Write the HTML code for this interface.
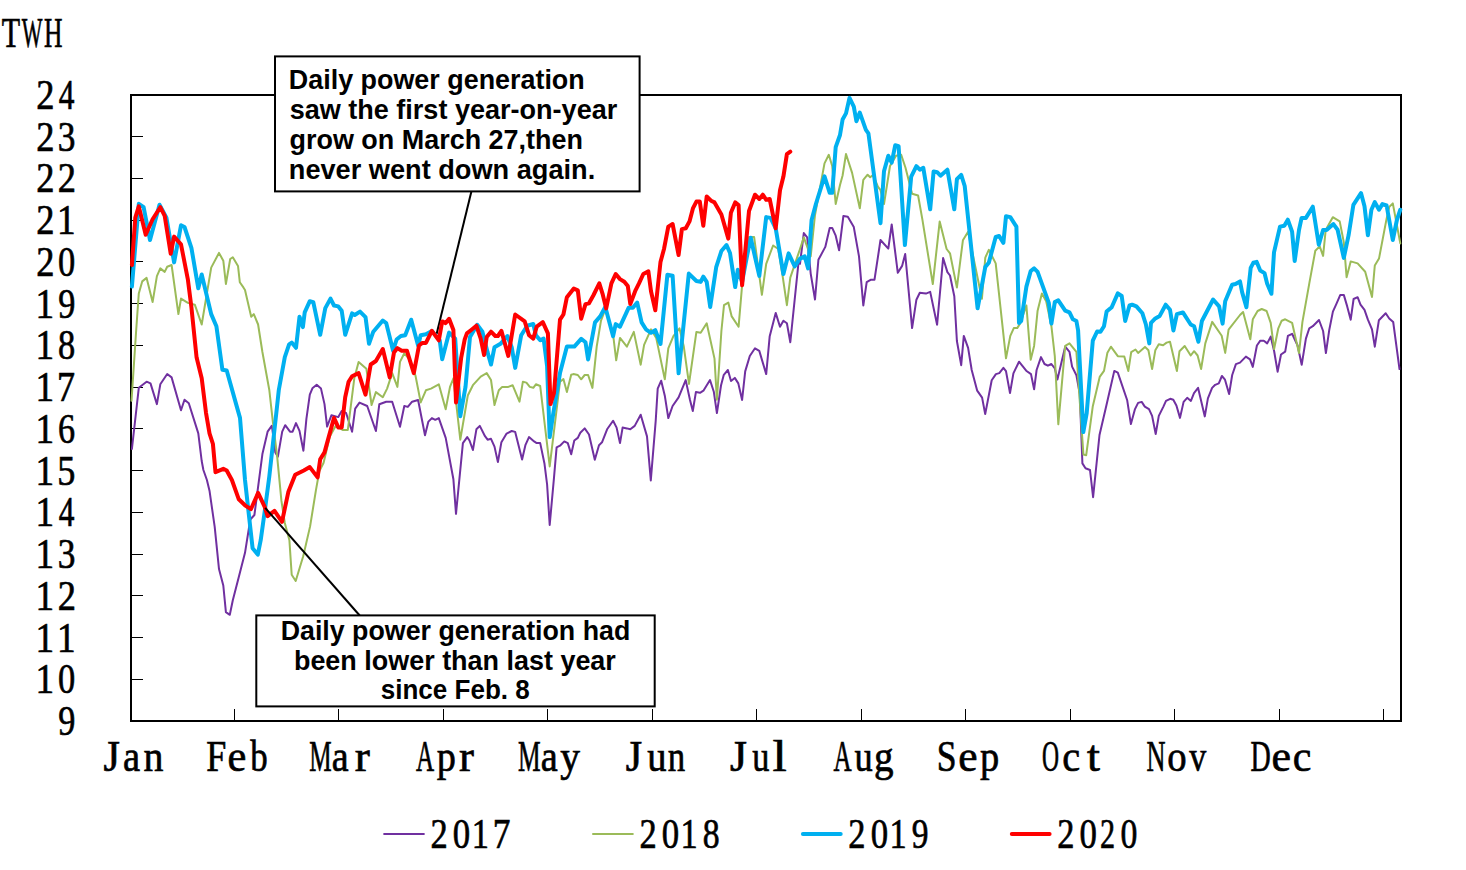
<!DOCTYPE html><html><head><meta charset="utf-8"><style>html,body{margin:0;padding:0;background:#fff;width:1466px;height:870px;overflow:hidden}svg{display:block}</style></head><body><svg width="1466" height="870" viewBox="0 0 1466 870"><rect width="1466" height="870" fill="#fff"/><text transform="translate(1.81,47.40) scale(0.698,1)" font-family="Liberation Serif, serif" font-size="43" fill="#000" stroke="#000" stroke-width="0.7">T</text><text transform="translate(21.83,47.40) scale(0.509,1)" font-family="Liberation Serif, serif" font-size="43" fill="#000" stroke="#000" stroke-width="0.7">W</text><text transform="translate(43.91,47.40) scale(0.595,1)" font-family="Liberation Serif, serif" font-size="43" fill="#000" stroke="#000" stroke-width="0.7">H</text><text transform="translate(58.30,735.00) scale(0.796,1)" font-family="Liberation Serif, serif" font-size="43" fill="#000" stroke="#000" stroke-width="0.7">9</text><text transform="translate(35.38,693.27) scale(0.865,1)" font-family="Liberation Serif, serif" font-size="43" fill="#000" stroke="#000" stroke-width="0.7">1</text><text transform="translate(58.09,693.27) scale(0.801,1)" font-family="Liberation Serif, serif" font-size="43" fill="#000" stroke="#000" stroke-width="0.7">0</text><text transform="translate(35.38,651.53) scale(0.865,1)" font-family="Liberation Serif, serif" font-size="43" fill="#000" stroke="#000" stroke-width="0.7">1</text><text transform="translate(56.88,651.53) scale(0.865,1)" font-family="Liberation Serif, serif" font-size="43" fill="#000" stroke="#000" stroke-width="0.7">1</text><text transform="translate(35.38,609.80) scale(0.865,1)" font-family="Liberation Serif, serif" font-size="43" fill="#000" stroke="#000" stroke-width="0.7">1</text><text transform="translate(57.80,609.80) scale(0.847,1)" font-family="Liberation Serif, serif" font-size="43" fill="#000" stroke="#000" stroke-width="0.7">2</text><text transform="translate(35.38,568.07) scale(0.865,1)" font-family="Liberation Serif, serif" font-size="43" fill="#000" stroke="#000" stroke-width="0.7">1</text><text transform="translate(57.71,568.07) scale(0.822,1)" font-family="Liberation Serif, serif" font-size="43" fill="#000" stroke="#000" stroke-width="0.7">3</text><text transform="translate(35.38,526.33) scale(0.865,1)" font-family="Liberation Serif, serif" font-size="43" fill="#000" stroke="#000" stroke-width="0.7">1</text><text transform="translate(58.79,526.33) scale(0.730,1)" font-family="Liberation Serif, serif" font-size="43" fill="#000" stroke="#000" stroke-width="0.7">4</text><text transform="translate(35.38,484.60) scale(0.865,1)" font-family="Liberation Serif, serif" font-size="43" fill="#000" stroke="#000" stroke-width="0.7">1</text><text transform="translate(57.29,484.60) scale(0.843,1)" font-family="Liberation Serif, serif" font-size="43" fill="#000" stroke="#000" stroke-width="0.7">5</text><text transform="translate(35.38,442.87) scale(0.865,1)" font-family="Liberation Serif, serif" font-size="43" fill="#000" stroke="#000" stroke-width="0.7">1</text><text transform="translate(57.93,442.87) scale(0.795,1)" font-family="Liberation Serif, serif" font-size="43" fill="#000" stroke="#000" stroke-width="0.7">6</text><text transform="translate(35.38,401.13) scale(0.865,1)" font-family="Liberation Serif, serif" font-size="43" fill="#000" stroke="#000" stroke-width="0.7">1</text><text transform="translate(57.03,401.13) scale(0.838,1)" font-family="Liberation Serif, serif" font-size="43" fill="#000" stroke="#000" stroke-width="0.7">7</text><text transform="translate(35.38,359.40) scale(0.865,1)" font-family="Liberation Serif, serif" font-size="43" fill="#000" stroke="#000" stroke-width="0.7">1</text><text transform="translate(58.09,359.40) scale(0.801,1)" font-family="Liberation Serif, serif" font-size="43" fill="#000" stroke="#000" stroke-width="0.7">8</text><text transform="translate(35.38,317.67) scale(0.865,1)" font-family="Liberation Serif, serif" font-size="43" fill="#000" stroke="#000" stroke-width="0.7">1</text><text transform="translate(58.30,317.67) scale(0.796,1)" font-family="Liberation Serif, serif" font-size="43" fill="#000" stroke="#000" stroke-width="0.7">9</text><text transform="translate(36.30,275.93) scale(0.847,1)" font-family="Liberation Serif, serif" font-size="43" fill="#000" stroke="#000" stroke-width="0.7">2</text><text transform="translate(58.09,275.93) scale(0.801,1)" font-family="Liberation Serif, serif" font-size="43" fill="#000" stroke="#000" stroke-width="0.7">0</text><text transform="translate(36.30,234.20) scale(0.847,1)" font-family="Liberation Serif, serif" font-size="43" fill="#000" stroke="#000" stroke-width="0.7">2</text><text transform="translate(56.88,234.20) scale(0.865,1)" font-family="Liberation Serif, serif" font-size="43" fill="#000" stroke="#000" stroke-width="0.7">1</text><text transform="translate(36.30,192.47) scale(0.847,1)" font-family="Liberation Serif, serif" font-size="43" fill="#000" stroke="#000" stroke-width="0.7">2</text><text transform="translate(57.80,192.47) scale(0.847,1)" font-family="Liberation Serif, serif" font-size="43" fill="#000" stroke="#000" stroke-width="0.7">2</text><text transform="translate(36.30,150.73) scale(0.847,1)" font-family="Liberation Serif, serif" font-size="43" fill="#000" stroke="#000" stroke-width="0.7">2</text><text transform="translate(57.71,150.73) scale(0.822,1)" font-family="Liberation Serif, serif" font-size="43" fill="#000" stroke="#000" stroke-width="0.7">3</text><text transform="translate(36.30,109.00) scale(0.847,1)" font-family="Liberation Serif, serif" font-size="43" fill="#000" stroke="#000" stroke-width="0.7">2</text><text transform="translate(58.79,109.00) scale(0.730,1)" font-family="Liberation Serif, serif" font-size="43" fill="#000" stroke="#000" stroke-width="0.7">4</text><rect x="131" y="95" width="1270" height="626" fill="none" stroke="#000" stroke-width="2"/><line x1="132" y1="679.5" x2="143" y2="679.5" stroke="#000" stroke-width="1"/><line x1="132" y1="637.5" x2="143" y2="637.5" stroke="#000" stroke-width="1"/><line x1="132" y1="595.5" x2="143" y2="595.5" stroke="#000" stroke-width="1"/><line x1="132" y1="554.5" x2="143" y2="554.5" stroke="#000" stroke-width="1"/><line x1="132" y1="512.5" x2="143" y2="512.5" stroke="#000" stroke-width="1"/><line x1="132" y1="470.5" x2="143" y2="470.5" stroke="#000" stroke-width="1"/><line x1="132" y1="428.5" x2="143" y2="428.5" stroke="#000" stroke-width="1"/><line x1="132" y1="387.5" x2="143" y2="387.5" stroke="#000" stroke-width="1"/><line x1="132" y1="345.5" x2="143" y2="345.5" stroke="#000" stroke-width="1"/><line x1="132" y1="303.5" x2="143" y2="303.5" stroke="#000" stroke-width="1"/><line x1="132" y1="261.5" x2="143" y2="261.5" stroke="#000" stroke-width="1"/><line x1="132" y1="220.5" x2="143" y2="220.5" stroke="#000" stroke-width="1"/><line x1="132" y1="178.5" x2="143" y2="178.5" stroke="#000" stroke-width="1"/><line x1="132" y1="136.5" x2="143" y2="136.5" stroke="#000" stroke-width="1"/><line x1="234.5" y1="709" x2="234.5" y2="720" stroke="#000" stroke-width="1"/><line x1="338.5" y1="709" x2="338.5" y2="720" stroke="#000" stroke-width="1"/><line x1="443.5" y1="709" x2="443.5" y2="720" stroke="#000" stroke-width="1"/><line x1="547.5" y1="709" x2="547.5" y2="720" stroke="#000" stroke-width="1"/><line x1="652.5" y1="709" x2="652.5" y2="720" stroke="#000" stroke-width="1"/><line x1="756.5" y1="709" x2="756.5" y2="720" stroke="#000" stroke-width="1"/><line x1="861.5" y1="709" x2="861.5" y2="720" stroke="#000" stroke-width="1"/><line x1="965.5" y1="709" x2="965.5" y2="720" stroke="#000" stroke-width="1"/><line x1="1070.5" y1="709" x2="1070.5" y2="720" stroke="#000" stroke-width="1"/><line x1="1174.5" y1="709" x2="1174.5" y2="720" stroke="#000" stroke-width="1"/><line x1="1279.5" y1="709" x2="1279.5" y2="720" stroke="#000" stroke-width="1"/><line x1="1383.5" y1="709" x2="1383.5" y2="720" stroke="#000" stroke-width="1"/><text transform="translate(103.47,770.70) scale(0.967,1)" font-family="Liberation Serif, serif" font-size="43.5" fill="#000" stroke="#000" stroke-width="0.7">J</text><text transform="translate(123.10,770.70) scale(0.885,1)" font-family="Liberation Serif, serif" font-size="43.5" fill="#000" stroke="#000" stroke-width="0.7">a</text><text transform="translate(143.54,770.70) scale(0.916,1)" font-family="Liberation Serif, serif" font-size="43.5" fill="#000" stroke="#000" stroke-width="0.7">n</text><text transform="translate(206.21,770.70) scale(0.828,1)" font-family="Liberation Serif, serif" font-size="43.5" fill="#000" stroke="#000" stroke-width="0.7">F</text><text transform="translate(227.39,770.70) scale(0.975,1)" font-family="Liberation Serif, serif" font-size="43.5" fill="#000" stroke="#000" stroke-width="0.7">e</text><text transform="translate(250.15,770.70) scale(0.801,1)" font-family="Liberation Serif, serif" font-size="43.5" fill="#000" stroke="#000" stroke-width="0.7">b</text><text transform="translate(309.13,770.70) scale(0.578,1)" font-family="Liberation Serif, serif" font-size="43.5" fill="#000" stroke="#000" stroke-width="0.7">M</text><text transform="translate(331.72,770.70) scale(0.873,1)" font-family="Liberation Serif, serif" font-size="43.5" fill="#000" stroke="#000" stroke-width="0.7">a</text><text transform="translate(354.74,770.70) scale(1.043,1)" font-family="Liberation Serif, serif" font-size="43.5" fill="#000" stroke="#000" stroke-width="0.7">r</text><text transform="translate(416.10,770.70) scale(0.577,1)" font-family="Liberation Serif, serif" font-size="43.5" fill="#000" stroke="#000" stroke-width="0.7">A</text><text transform="translate(436.83,770.70) scale(0.879,1)" font-family="Liberation Serif, serif" font-size="43.5" fill="#000" stroke="#000" stroke-width="0.7">p</text><text transform="translate(459.05,770.70) scale(1.028,1)" font-family="Liberation Serif, serif" font-size="43.5" fill="#000" stroke="#000" stroke-width="0.7">r</text><text transform="translate(517.92,770.70) scale(0.584,1)" font-family="Liberation Serif, serif" font-size="43.5" fill="#000" stroke="#000" stroke-width="0.7">M</text><text transform="translate(540.71,770.70) scale(0.879,1)" font-family="Liberation Serif, serif" font-size="43.5" fill="#000" stroke="#000" stroke-width="0.7">a</text><text transform="translate(560.27,770.70) scale(0.907,1)" font-family="Liberation Serif, serif" font-size="43.5" fill="#000" stroke="#000" stroke-width="0.7">y</text><text transform="translate(625.77,770.70) scale(0.967,1)" font-family="Liberation Serif, serif" font-size="43.5" fill="#000" stroke="#000" stroke-width="0.7">J</text><text transform="translate(647.34,770.70) scale(0.886,1)" font-family="Liberation Serif, serif" font-size="43.5" fill="#000" stroke="#000" stroke-width="0.7">u</text><text transform="translate(667.85,770.70) scale(0.801,1)" font-family="Liberation Serif, serif" font-size="43.5" fill="#000" stroke="#000" stroke-width="0.7">n</text><text transform="translate(730.04,770.70) scale(1.000,1)" font-family="Liberation Serif, serif" font-size="43.5" fill="#000" stroke="#000" stroke-width="0.7">J</text><text transform="translate(752.20,770.70) scale(0.788,1)" font-family="Liberation Serif, serif" font-size="43.5" fill="#000" stroke="#000" stroke-width="0.7">u</text><text transform="translate(772.42,770.70) scale(1.179,1)" font-family="Liberation Serif, serif" font-size="43.5" fill="#000" stroke="#000" stroke-width="0.7">l</text><text transform="translate(833.40,770.70) scale(0.577,1)" font-family="Liberation Serif, serif" font-size="43.5" fill="#000" stroke="#000" stroke-width="0.7">A</text><text transform="translate(854.57,770.70) scale(0.837,1)" font-family="Liberation Serif, serif" font-size="43.5" fill="#000" stroke="#000" stroke-width="0.7">u</text><text transform="translate(874.07,770.70) scale(0.898,1)" font-family="Liberation Serif, serif" font-size="43.5" fill="#000" stroke="#000" stroke-width="0.7">g</text><text transform="translate(936.67,770.70) scale(0.818,1)" font-family="Liberation Serif, serif" font-size="43.5" fill="#000" stroke="#000" stroke-width="0.7">S</text><text transform="translate(958.15,770.70) scale(1.000,1)" font-family="Liberation Serif, serif" font-size="43.5" fill="#000" stroke="#000" stroke-width="0.7">e</text><text transform="translate(980.03,770.70) scale(0.884,1)" font-family="Liberation Serif, serif" font-size="43.5" fill="#000" stroke="#000" stroke-width="0.7">p</text><text transform="translate(1041.98,770.70) scale(0.542,1)" font-family="Liberation Serif, serif" font-size="43.5" fill="#000" stroke="#000" stroke-width="0.7">O</text><text transform="translate(1062.22,770.70) scale(0.926,1)" font-family="Liberation Serif, serif" font-size="43.5" fill="#000" stroke="#000" stroke-width="0.7">c</text><text transform="translate(1087.00,770.70) scale(1.070,1)" font-family="Liberation Serif, serif" font-size="43.5" fill="#000" stroke="#000" stroke-width="0.7">t</text><text transform="translate(1146.59,770.70) scale(0.604,1)" font-family="Liberation Serif, serif" font-size="43.5" fill="#000" stroke="#000" stroke-width="0.7">N</text><text transform="translate(1167.28,770.70) scale(0.890,1)" font-family="Liberation Serif, serif" font-size="43.5" fill="#000" stroke="#000" stroke-width="0.7">o</text><text transform="translate(1189.25,770.70) scale(0.782,1)" font-family="Liberation Serif, serif" font-size="43.5" fill="#000" stroke="#000" stroke-width="0.7">v</text><text transform="translate(1250.54,770.70) scale(0.644,1)" font-family="Liberation Serif, serif" font-size="43.5" fill="#000" stroke="#000" stroke-width="0.7">D</text><text transform="translate(1271.43,770.70) scale(1.012,1)" font-family="Liberation Serif, serif" font-size="43.5" fill="#000" stroke="#000" stroke-width="0.7">e</text><text transform="translate(1292.66,770.70) scale(0.962,1)" font-family="Liberation Serif, serif" font-size="43.5" fill="#000" stroke="#000" stroke-width="0.7">c</text><line x1="472" y1="189" x2="436.6" y2="334" stroke="#000" stroke-width="2"/><polyline points="131.9,449.0 138.8,387.8 146.6,381.7 150.5,383.4 156.9,404.1 160.3,384.3 167.2,374.0 171.6,377.4 181.0,410.2 184.5,399.8 188.8,403.3 198.3,433.4 201.7,461.0 203.4,470.0 206.9,480.0 209.5,490.7 214.7,526.9 219.0,569.1 223.3,585.5 225.9,612.2 229.8,614.8 232.8,600.2 238.8,576.9 245.0,552.8 250.3,519.5 254.4,515.0 262.4,454.1 267.6,431.7 271.9,425.7 275.3,452.4 277.9,456.7 282.2,431.7 285.2,425.2 290.0,431.7 292.6,431.7 296.0,423.1 299.5,430.9 303.4,450.7 306.4,418.8 309.8,394.7 312.4,388.3 316.7,384.8 321.0,388.6 324.5,404.1 327.1,426.6 331.4,415.3 338.3,417.1 341.7,411.0 346.0,412.8 352.1,431.7 355.2,408.6 359.5,402.6 367.2,406.0 375.9,431.0 379.3,404.3 386.2,401.7 392.2,401.7 400.0,426.7 404.3,406.0 407.8,406.9 412.1,401.7 418.1,400.0 425.0,435.3 428.4,421.6 431.9,418.1 435.3,419.8 438.8,418.1 445.7,437.9 453.4,479.3 456.0,513.8 462.9,443.1 467.2,437.1 469.5,440.5 472.9,450.0 476.4,429.3 479.8,425.9 485.0,436.2 487.6,439.7 491.0,438.8 494.5,446.6 497.9,462.1 501.4,442.2 506.6,433.6 511.7,431.0 515.2,431.9 522.1,459.5 525.5,444.8 529.0,437.1 534.1,441.4 536.7,443.1 540.2,443.1 544.5,463.8 547.1,484.5 549.7,525.0 554.0,477.6 556.6,447.4 560.0,445.7 564.3,441.4 567.8,443.1 571.2,454.3 574.3,440.5 577.8,437.9 580.3,432.8 584.7,428.4 589.0,434.5 594.8,459.8 599.0,445.2 602.0,442.3 607.1,429.3 613.1,420.7 616.6,427.6 620.0,443.1 622.6,427.6 626.9,428.4 630.3,429.3 634.7,425.9 640.7,414.7 647.0,436.4 650.8,480.4 655.7,420.8 657.7,388.6 661.2,380.7 664.8,395.7 668.3,418.1 672.6,406.0 678.6,397.4 685.7,380.1 690.0,400.0 692.8,411.0 695.9,392.1 700.0,392.8 703.4,390.7 710.0,380.0 713.8,391.7 716.9,413.1 721.0,385.5 723.8,374.8 727.9,370.0 731.0,381.0 734.8,377.9 738.3,383.4 742.1,400.0 745.2,371.4 749.8,356.0 755.0,348.3 759.3,350.9 766.2,374.1 769.7,336.2 775.7,312.9 780.0,326.7 783.4,320.7 786.9,323.3 790.3,342.2 798.6,261.6 800.0,263.8 803.8,233.1 807.2,237.4 810.7,273.6 815.0,299.5 818.4,259.8 825.3,246.9 829.7,227.9 832.2,227.9 835.7,235.7 839.1,250.3 843.4,215.9 847.8,216.7 853.8,227.1 859.0,256.4 863.3,305.5 866.7,282.2 871.0,279.7 874.5,279.7 880.5,240.0 888.3,248.6 891.7,224.5 897.8,272.8 902.1,265.9 905.2,254.0 912.1,328.1 916.4,299.7 919.8,292.8 925.9,293.6 930.2,291.9 937.1,324.7 943.1,258.0 947.4,272.1 950.0,275.5 954.3,296.2 956.9,341.0 961.2,365.2 963.8,335.9 968.1,347.9 971.7,370.0 977.2,390.7 982.1,397.6 985.2,414.1 991.7,380.3 995.9,374.1 999.3,373.1 1003.4,367.8 1006.0,371.2 1010.0,393.1 1013.4,373.4 1019.0,361.7 1026.2,370.7 1031.0,374.1 1034.1,389.3 1036.6,370.0 1041.0,357.1 1044.5,364.0 1047.9,365.7 1051.4,364.0 1054.8,368.3 1057.4,379.5 1060.9,364.8 1065.2,346.7 1069.5,351.9 1072.1,366.6 1076.4,375.2 1079.8,394.1 1082.4,463.4 1085.5,468.3 1090.0,470.0 1093.1,497.2 1099.5,435.0 1106.6,404.5 1114.3,370.9 1117.8,372.6 1127.2,400.3 1130.9,424.1 1135.0,409.1 1138.1,402.9 1141.7,401.9 1144.8,406.6 1149.0,409.1 1152.1,415.9 1155.7,434.0 1158.8,415.9 1163.4,406.6 1166.0,400.9 1170.2,398.8 1173.3,399.8 1176.4,405.5 1180.0,417.9 1183.6,401.9 1187.2,397.8 1190.9,400.9 1194.0,393.1 1198.1,387.9 1204.8,416.4 1207.9,398.3 1212.1,387.9 1215.2,384.8 1218.8,383.3 1221.9,376.0 1225.0,379.7 1229.1,394.1 1232.2,375.0 1235.9,364.1 1240.0,362.6 1245.9,356.6 1250.0,359.3 1252.8,366.9 1256.9,345.5 1260.3,340.7 1263.8,340.7 1267.2,343.4 1270.7,336.6 1274.1,351.0 1277.6,371.7 1281.0,354.5 1285.2,351.7 1287.9,335.9 1292.1,333.8 1297.6,345.5 1301.7,364.8 1305.9,338.6 1309.3,328.3 1312.8,326.2 1319.0,320.0 1323.1,331.0 1325.9,353.1 1329.3,329.7 1332.9,311.6 1336.3,304.1 1340.3,294.9 1343.8,294.9 1347.2,306.4 1350.7,319.7 1353.6,299.0 1357.6,297.2 1360.5,304.7 1364.5,309.9 1367.9,319.7 1372.0,329.4 1374.8,346.7 1378.9,320.2 1385.7,313.3 1389.2,318.5 1393.2,322.0 1399.5,369.1" fill="none" stroke="#7030A0" stroke-width="2" stroke-linejoin="round" stroke-linecap="round"/><polyline points="131.5,400.7 136.2,330.0 138.8,293.4 142.2,281.4 146.6,277.9 152.6,302.1 156.9,276.2 160.3,268.4 164.7,271.9 167.2,266.7 171.6,265.0 178.4,314.1 181.0,298.6 187.9,302.9 194.8,304.7 201.7,324.5 211.2,267.6 219.0,252.9 223.3,260.7 225.9,284.0 230.2,259.0 232.8,257.2 238.0,265.9 239.8,282.2 243.4,287.4 245.0,290.0 251.2,316.7 253.8,314.1 258.1,324.5 262.4,352.0 269.3,390.0 272.8,421.4 277.1,455.9 281.4,500.7 284.8,523.0 289.4,540.2 291.7,574.7 295.7,581.0 303.2,556.3 310.1,526.4 315.9,490.3 319.3,471.4 323.6,462.8 329.7,436.9 335.7,425.7 342.6,430.0 347.8,430.0 354.3,378.3 358.6,361.9 366.4,368.8 371.6,405.0 375.9,392.1 382.8,397.2 387.1,388.6 392.2,373.1 397.4,386.9 400.0,361.9 404.3,353.3 408.6,358.4 415.5,375.7 420.7,402.4 425.9,390.3 431.0,388.6 438.8,384.3 445.7,409.3 450.0,386.9 453.4,378.3 460.3,439.7 467.8,395.5 472.9,385.2 480.7,376.6 486.7,373.1 491.0,380.0 494.5,405.0 498.8,390.3 502.2,386.9 508.3,386.9 512.6,385.2 519.5,401.6 522.9,381.7 526.4,382.6 529.8,386.9 533.3,387.8 535.9,384.3 540.2,386.0 549.7,466.4 560.0,381.7 563.4,379.1 566.9,392.1 571.2,374.8 573.4,374.1 577.8,375.0 581.2,379.3 584.7,375.0 588.1,375.0 592.4,387.9 596.7,346.6 601.0,320.7 605.3,309.5 613.1,334.5 616.2,360.3 620.0,337.9 626.9,346.6 633.8,331.9 640.7,364.7 644.1,344.8 651.0,329.3 656.2,337.9 664.8,379.3 668.3,348.3 673.4,336.2 679.5,328.4 683.8,346.6 689.0,383.9 696.4,331.9 700.7,332.8 706.7,323.3 714.5,358.6 716.9,399.7 721.4,331.0 724.0,305.2 728.3,302.6 731.7,316.4 738.6,326.7 742.1,285.3 749.0,236.9 754.1,236.9 761.9,294.8 766.2,263.8 773.1,245.5 778.3,249.0 782.6,275.9 786.9,305.2 790.3,277.6 800.0,249.0 803.8,237.4 810.7,256.4 815.0,215.0 824.5,163.4 828.8,154.8 832.2,166.0 835.7,204.0 840.0,185.0 842.6,175.5 846.0,154.0 852.1,172.9 859.8,208.3 863.3,179.8 867.6,174.7 870.2,177.2 873.0,175.0 877.9,186.7 880.5,190.2 884.0,204.0 890.0,166.0 896.0,155.7 901.2,154.8 905.5,167.8 912.1,193.8 918.1,195.5 922.4,219.7 932.8,284.1 939.7,221.4 946.6,249.0 950.0,253.3 956.9,287.6 962.9,240.3 968.1,231.7 981.9,298.8 985.3,257.6 988.8,249.8 995.7,263.4 1006.0,358.3 1010.3,335.9 1013.8,328.1 1017.2,328.1 1020.0,323.8 1026.4,305.5 1030.7,359.7 1034.1,345.9 1037.6,310.7 1041.9,293.4 1046.2,301.2 1051.4,326.2 1054.8,356.2 1058.3,424.3 1065.2,345.9 1069.5,343.3 1076.4,351.9 1083.4,454.5 1086.2,455.2 1092.8,406.2 1099.7,376.9 1104.0,370.9 1107.4,352.8 1110.9,346.7 1117.8,356.2 1124.3,356.4 1128.3,371.0 1131.2,352.1 1135.5,349.5 1138.1,352.9 1145.0,346.9 1148.4,350.3 1152.1,369.0 1155.3,350.3 1158.8,344.3 1163.1,345.2 1166.6,342.6 1170.0,341.7 1176.9,371.0 1179.5,351.2 1184.7,346.0 1190.7,355.5 1194.1,351.2 1197.6,355.5 1201.1,369.0 1205.3,343.4 1212.2,321.9 1221.7,335.7 1225.2,352.9 1228.6,329.7 1240.0,315.0 1243.1,312.0 1250.3,339.3 1252.8,319.3 1257.6,311.0 1261.7,309.0 1266.6,311.0 1270.7,322.8 1274.1,349.0 1278.3,328.3 1281.7,320.7 1285.2,319.3 1292.1,322.8 1299.0,353.1 1302.4,322.1 1309.3,283.4 1315.3,250.7 1319.7,246.4 1323.1,255.9 1325.7,230.0 1332.8,217.2 1339.7,221.4 1343.8,242.1 1346.6,277.2 1350.7,261.4 1357.6,263.4 1365.2,271.7 1372.0,297.0 1374.8,265.5 1379.0,258.6 1386.6,218.6 1389.3,206.9 1392.8,203.4 1400.3,243.4" fill="none" stroke="#9BBB59" stroke-width="2" stroke-linejoin="round" stroke-linecap="round"/><polyline points="131.9,286.6 138.8,203.8 143.6,207.2 150.0,240.0 159.5,204.7 166.4,217.6 174.1,262.4 181.0,225.3 184.5,227.0 191.4,247.8 198.3,288.3 201.7,274.5 211.2,314.1 216.4,326.2 222.4,369.7 226.7,370.5 237.1,407.6 240.0,417.9 245.0,480.0 252.6,548.3 257.8,554.6 260.7,540.2 264.7,511.5 269.3,476.6 277.1,405.9 278.8,390.0 284.8,357.2 289.1,344.3 291.7,342.6 296.0,347.8 299.5,316.7 302.9,327.1 304.7,312.4 309.8,301.2 313.3,302.1 320.2,334.8 325.3,308.1 330.5,298.6 334.0,305.5 338.3,306.4 341.7,310.7 345.2,334.8 352.1,313.3 354.7,315.0 360.0,311.6 365.5,317.1 369.0,343.8 373.3,331.7 382.8,320.5 386.2,323.1 393.1,350.7 396.6,339.5 400.9,336.0 405.2,335.2 411.2,319.7 418.1,345.5 420.7,335.2 425.9,334.3 431.9,331.0 439.7,340.3 442.2,359.3 449.1,332.6 455.2,338.6 460.3,416.2 465.5,386.9 470.0,336.9 477.2,324.8 482.4,331.7 487.6,352.4 491.0,364.5 494.5,347.2 500.5,343.8 507.4,336.0 511.7,347.2 515.2,367.9 521.2,335.2 527.2,325.7 533.3,324.0 535.9,335.2 540.2,340.3 543.6,338.6 547.1,366.2 549.7,437.1 553.1,414.5 560.0,373.1 566.9,346.4 574.3,346.6 581.2,338.8 585.5,342.2 588.1,359.5 595.0,322.4 600.2,316.4 605.3,306.9 613.1,336.2 615.7,324.1 620.0,326.7 628.6,307.8 632.9,307.8 637.2,302.6 641.6,322.4 645.9,329.3 651.0,332.8 655.3,330.2 660.5,344.0 667.4,274.8 672.6,275.7 678.6,373.3 688.8,273.6 696.4,281.0 700.7,281.9 703.3,276.7 706.7,281.9 710.2,306.9 716.2,267.2 721.4,251.0 726.5,245.0 730.0,253.0 735.2,287.1 737.8,269.8 742.1,282.0 747.2,255.2 750.7,237.8 759.3,275.9 766.2,217.1 770.5,217.9 775.7,228.3 783.4,274.1 788.6,253.4 794.7,266.4 800.0,258.6 804.7,256.4 808.1,268.4 811.6,220.0 815.9,204.0 824.5,176.4 829.7,192.8 832.2,192.8 835.7,147.1 840.0,135.0 842.6,119.5 846.0,113.4 849.5,97.9 853.8,106.6 856.4,121.2 859.8,112.6 865.9,129.8 868.4,133.3 880.5,223.2 884.0,171.2 888.3,155.7 891.7,162.6 895.2,145.3 898.6,146.2 904.9,245.0 911.2,176.6 916.4,166.2 919.8,169.7 923.3,167.9 930.2,209.3 933.6,171.4 937.1,172.2 940.5,175.7 947.4,169.7 954.3,209.3 956.9,179.1 961.2,174.8 964.7,186.0 977.6,308.3 985.3,266.9 988.8,262.8 995.7,236.9 999.1,236.0 1003.4,242.9 1006.0,216.2 1010.3,217.1 1016.4,226.6 1019.0,322.9 1021.2,321.0 1026.4,286.6 1030.7,271.0 1034.1,268.4 1037.6,271.9 1048.8,302.9 1051.4,323.6 1054.8,302.1 1058.3,300.3 1065.2,310.7 1069.5,312.4 1072.9,319.3 1076.4,321.0 1078.1,330.3 1083.3,432.1 1086.7,413.1 1092.8,340.7 1097.1,331.5 1100.5,331.8 1104.0,326.2 1106.6,311.6 1111.7,307.2 1117.8,293.4 1121.7,296.0 1125.2,321.0 1129.5,305.5 1132.1,304.7 1136.4,306.4 1142.4,313.3 1145.9,324.5 1149.3,343.4 1151.0,322.8 1155.3,318.4 1159.7,315.9 1165.7,304.7 1170.0,309.8 1173.4,330.5 1176.9,314.1 1182.9,312.4 1190.7,324.5 1194.1,326.2 1198.4,341.7 1201.9,321.0 1213.1,299.5 1219.1,306.4 1222.6,323.6 1225.2,301.2 1232.1,284.8 1235.5,284.0 1240.0,281.4 1242.1,292.1 1246.4,307.3 1250.7,267.9 1253.3,262.8 1256.7,261.9 1260.2,270.5 1264.5,273.1 1267.1,283.4 1271.4,293.8 1274.0,252.4 1280.0,226.6 1284.3,225.7 1287.8,219.7 1292.1,231.7 1294.7,261.0 1299.0,230.0 1301.6,217.9 1305.9,217.9 1312.8,206.7 1318.8,244.7 1323.1,230.0 1326.6,230.0 1333.4,224.1 1337.6,229.7 1343.8,257.9 1348.6,235.2 1353.4,204.8 1361.0,193.1 1364.5,206.2 1367.9,235.2 1371.4,209.7 1374.8,202.1 1379.0,209.7 1382.4,204.1 1386.6,205.5 1392.8,240.0 1396.9,220.0 1400.3,209.7" fill="none" stroke="#00B0F0" stroke-width="4" stroke-linejoin="round" stroke-linecap="round"/><polyline points="131.9,265.0 135.3,217.6 138.8,206.4 145.7,234.8 152.6,219.3 160.3,207.2 164.7,215.9 170.7,253.8 174.1,236.6 181.0,244.3 187.9,279.7 191.4,307.2 196.6,357.6 201.7,378.3 206.0,412.8 209.5,433.4 212.9,443.8 215.5,472.2 223.3,468.8 226.7,470.5 231.9,480.0 238.8,499.3 245.0,505.3 250.9,509.2 258.1,492.9 264.7,506.9 267.6,516.1 274.5,510.9 282.0,521.8 288.3,492.1 295.2,474.8 303.8,470.5 309.8,467.1 317.6,477.4 320.2,459.3 324.5,452.4 334.0,417.9 338.3,427.4 341.7,427.4 345.2,397.2 348.6,381.7 352.1,376.2 358.6,373.1 365.5,394.7 370.7,364.5 375.9,361.0 382.8,349.0 389.7,377.4 394.0,352.4 397.4,348.1 401.7,350.7 406.9,350.7 413.8,373.1 419.0,345.5 422.4,342.9 425.9,342.9 431.9,330.9 438.8,340.3 442.2,321.4 445.7,323.1 449.1,318.8 453.4,330.0 456.0,402.4 461.2,357.6 464.7,339.5 466.9,333.4 471.2,330.0 476.4,325.7 480.7,338.6 484.1,355.0 486.7,336.9 491.0,331.7 495.3,336.0 497.9,336.0 501.4,330.9 508.3,355.9 515.2,314.5 524.7,321.4 529.0,335.2 533.3,338.6 536.7,326.6 542.8,322.2 547.9,333.4 550.5,404.1 554.0,392.9 560.0,319.7 563.4,314.5 566.9,297.2 573.8,288.6 577.8,290.3 581.2,318.8 585.5,304.1 589.0,303.3 593.3,295.5 599.3,283.4 602.8,294.7 606.2,308.4 611.4,283.4 615.7,274.0 620.0,279.1 624.3,281.7 627.8,286.0 630.3,304.1 635.5,290.3 639.0,283.4 643.3,274.0 648.4,271.4 651.0,291.2 655.3,310.2 660.5,261.9 664.0,249.0 668.3,226.6 672.6,224.0 678.6,255.0 681.9,229.1 685.8,228.3 689.5,221.4 692.9,208.4 696.4,201.6 699.8,201.6 703.3,225.7 706.7,196.4 711.0,200.7 714.5,202.4 721.4,214.5 728.3,238.6 730.9,212.8 735.2,202.4 738.6,205.0 742.1,285.3 749.0,211.0 755.0,194.7 759.3,199.0 762.8,194.7 766.2,199.8 769.7,199.0 775.7,228.3 780.0,190.3 783.4,176.6 786.9,154.1 790.3,151.6" fill="none" stroke="#FF0000" stroke-width="4" stroke-linejoin="round" stroke-linecap="round"/><line x1="265.2" y1="507.9" x2="359.7" y2="615.5" stroke="#000" stroke-width="2"/><rect x="275" y="56.4" width="364.6" height="135" fill="#fff" stroke="#000" stroke-width="2"/><text transform="translate(288.80,88.70) scale(0.9970,1)" font-family="Liberation Sans, sans-serif" font-weight="bold" font-size="27">Daily power generation</text><text transform="translate(289.65,118.70) scale(1.0016,1)" font-family="Liberation Sans, sans-serif" font-weight="bold" font-size="27">saw the first year-on-year</text><text transform="translate(289.49,148.70) scale(0.9984,1)" font-family="Liberation Sans, sans-serif" font-weight="bold" font-size="27">grow on March 27,then</text><text transform="translate(288.81,178.70) scale(1.0063,1)" font-family="Liberation Sans, sans-serif" font-weight="bold" font-size="27">never went down again.</text><rect x="256.3" y="615.4" width="398.4" height="91" fill="#fff" stroke="#000" stroke-width="2"/><text transform="translate(280.71,639.90) scale(0.9920,1)" font-family="Liberation Sans, sans-serif" font-weight="bold" font-size="27">Daily power generation had</text><text transform="translate(293.92,669.65) scale(0.9980,1)" font-family="Liberation Sans, sans-serif" font-weight="bold" font-size="27">been lower than last year</text><text transform="translate(380.78,699.40) scale(0.9641,1)" font-family="Liberation Sans, sans-serif" font-weight="bold" font-size="27">since Feb. 8</text><line x1="384.1" y1="834" x2="423.9" y2="834" stroke="#7030A0" stroke-width="2" stroke-linecap="round"/><text transform="translate(430.54,847.50) scale(0.801,1)" font-family="Liberation Serif, serif" font-size="43" fill="#000" stroke="#000" stroke-width="0.7">2</text><text transform="translate(452.87,847.50) scale(0.809,1)" font-family="Liberation Serif, serif" font-size="43" fill="#000" stroke="#000" stroke-width="0.7">0</text><text transform="translate(471.63,847.50) scale(0.799,1)" font-family="Liberation Serif, serif" font-size="43" fill="#000" stroke="#000" stroke-width="0.7">1</text><text transform="translate(492.72,847.50) scale(0.821,1)" font-family="Liberation Serif, serif" font-size="43" fill="#000" stroke="#000" stroke-width="0.7">7</text><line x1="593.0" y1="834" x2="632.8" y2="834" stroke="#9BBB59" stroke-width="2" stroke-linecap="round"/><text transform="translate(639.44,847.50) scale(0.801,1)" font-family="Liberation Serif, serif" font-size="43" fill="#000" stroke="#000" stroke-width="0.7">2</text><text transform="translate(661.77,847.50) scale(0.809,1)" font-family="Liberation Serif, serif" font-size="43" fill="#000" stroke="#000" stroke-width="0.7">0</text><text transform="translate(680.53,847.50) scale(0.799,1)" font-family="Liberation Serif, serif" font-size="43" fill="#000" stroke="#000" stroke-width="0.7">1</text><text transform="translate(702.66,847.50) scale(0.785,1)" font-family="Liberation Serif, serif" font-size="43" fill="#000" stroke="#000" stroke-width="0.7">8</text><line x1="802.9" y1="834" x2="840.7" y2="834" stroke="#00B0F0" stroke-width="4" stroke-linecap="round"/><text transform="translate(848.34,847.50) scale(0.801,1)" font-family="Liberation Serif, serif" font-size="43" fill="#000" stroke="#000" stroke-width="0.7">2</text><text transform="translate(870.67,847.50) scale(0.809,1)" font-family="Liberation Serif, serif" font-size="43" fill="#000" stroke="#000" stroke-width="0.7">0</text><text transform="translate(889.43,847.50) scale(0.799,1)" font-family="Liberation Serif, serif" font-size="43" fill="#000" stroke="#000" stroke-width="0.7">1</text><text transform="translate(911.77,847.50) scale(0.779,1)" font-family="Liberation Serif, serif" font-size="43" fill="#000" stroke="#000" stroke-width="0.7">9</text><line x1="1011.8" y1="834" x2="1049.6" y2="834" stroke="#FF0000" stroke-width="4" stroke-linecap="round"/><text transform="translate(1057.24,847.50) scale(0.801,1)" font-family="Liberation Serif, serif" font-size="43" fill="#000" stroke="#000" stroke-width="0.7">2</text><text transform="translate(1079.57,847.50) scale(0.809,1)" font-family="Liberation Serif, serif" font-size="43" fill="#000" stroke="#000" stroke-width="0.7">0</text><text transform="translate(1100.02,847.50) scale(0.702,1)" font-family="Liberation Serif, serif" font-size="43" fill="#000" stroke="#000" stroke-width="0.7">2</text><text transform="translate(1120.46,847.50) scale(0.785,1)" font-family="Liberation Serif, serif" font-size="43" fill="#000" stroke="#000" stroke-width="0.7">0</text></svg></body></html>
